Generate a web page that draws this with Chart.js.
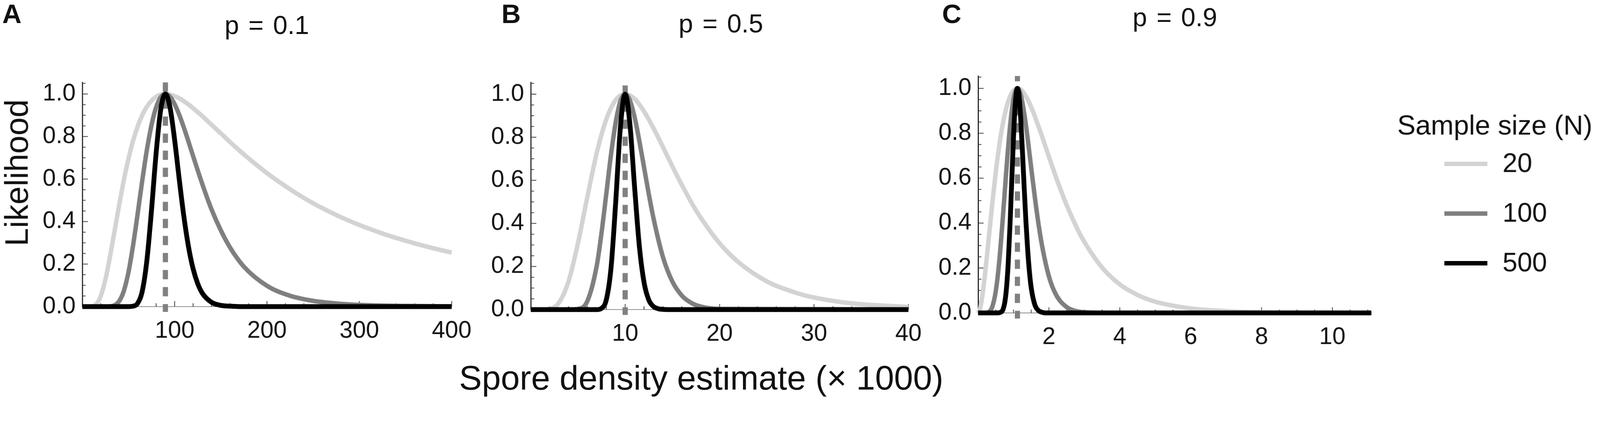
<!DOCTYPE html>
<html>
<head>
<meta charset="utf-8">
<script src="https://cdn.jsdelivr.net/npm/chart.js@4.4.1/dist/chart.umd.min.js"></script>
<style>
html, body { margin: 0; padding: 0; background: #ffffff; overflow: hidden; }
#root { position: absolute; left: 0; top: 0; width: 4317px; height: 1080px; overflow: hidden;
        transform-origin: 0 0; background: #ffffff;
        font-family: "Liberation Sans", Arial, sans-serif; color: #111; }
.box { position: absolute; top: 0; height: 1080px; }
.t { position: absolute; white-space: nowrap; }
</style>
</head>
<body>
<div id="root">
<div class="box" style="left:0px;width:1300px"><canvas id="cA" width="1300" height="1080"></canvas></div>
<div class="box" style="left:1300px;width:1220px"><canvas id="cB" width="1220" height="1080"></canvas></div>
<div class="box" style="left:2520px;width:1797px"><canvas id="cC" width="1797" height="1080"></canvas></div>

<div class="t" style="left:6px;top:1px;font-size:72px;line-height:72px;font-weight:bold">A</div>
<div class="t" style="left:1353px;top:1px;font-size:72px;line-height:72px;font-weight:bold">B</div>
<div class="t" style="left:2542px;top:1px;font-size:72px;line-height:72px;font-weight:bold">C</div>

<div class="t" style="left:720px;top:33px;font-size:70px;line-height:70px;word-spacing:6px;transform:translateX(-50%)">p = 0.1</div>
<div class="t" style="left:1945px;top:28px;font-size:70px;line-height:70px;word-spacing:6px;transform:translateX(-50%)">p = 0.5</div>
<div class="t" style="left:3170px;top:12px;font-size:70px;line-height:70px;word-spacing:6px;transform:translateX(-50%)">p = 0.9</div>

<div class="t" style="left:45px;top:466px;font-size:88px;line-height:88px;transform:translate(-50%,-50%) rotate(-90deg)">Likelihood</div>
<div class="t" style="left:1892px;top:973px;font-size:92px;line-height:92px;transform:translateX(-50%)">Spore density estimate (× 1000)</div>
</div>

<script>
// fit the 4317x1080 figure to whatever viewport the browser really gives
(function () {
  const root = document.getElementById('root');
  const s = Math.min(window.innerWidth / 4317, window.innerHeight / 1080);
  if (s > 0 && Math.abs(s - 1) > 0.001) root.style.transform = 'scale(' + s + ')';
})();

// ---------------- data ----------------
const sampleSizes = ['20', '100', '500'];
const legendTitle = 'Sample size (N)';
const modeDensity = [90, 10, 1.11];

const yTickVals = [0, 0.2, 0.4, 0.6, 0.8, 1.0];
const yTickLabels = ['0.0', '0.2', '0.4', '0.6', '0.8', '1.0'];

const xTicksA = [100, 200, 300, 400];
const xTickLabelsA = ['100', '200', '300', '400'];
const xTicksB = [10, 20, 30, 40];
const xTickLabelsB = ['10', '20', '30', '40'];
const xTicksC = [2, 4, 6, 8, 10];
const xTickLabelsC = ['2', '4', '6', '8', '10'];

// Panel A (p = 0.1)
const densA20 = [0,10,15,20,25,30,35,40,45,50,55,60,65,70,75,80,85,90,95,100,105,110,115,120,130,140,150,160,175,200,225,250,275,300,325,350,375,400];
const likeA20 = [0,0.001,0.011,0.050,0.127,0.235,0.357,0.480,0.595,0.695,0.780,0.848,0.901,0.941,0.969,0.987,0.997,1.000,0.997,0.990,0.980,0.966,0.951,0.933,0.896,0.855,0.815,0.774,0.716,0.628,0.552,0.486,0.431,0.384,0.344,0.310,0.280,0.254];
const densA100 = [0,25,30,35,40,45,50,55,60,65,70,75,80,85,90,95,100,105,110,115,120,130,140,150,160,175,200,225,250,275,300,350,400];
const likeA100 = [0,0,0.001,0.006,0.026,0.074,0.162,0.288,0.438,0.595,0.738,0.855,0.938,0.985,1.000,0.987,0.952,0.902,0.842,0.776,0.708,0.576,0.457,0.359,0.278,0.188,0.098,0.051,0.027,0.015,0.008,0.003,0.001];
const densA500 = [0,45,50,55,60,65,70,75,80,85,90,95,100,105,110,115,120,125,130,140,150,160,170,400];
const likeA500 = [0,0,0,0.002,0.016,0.074,0.219,0.456,0.724,0.928,1.000,0.937,0.784,0.598,0.424,0.282,0.178,0.108,0.063,0.020,0.006,0.002,0,0];

// Panel B (p = 0.5)
const densB20 = [0,1,2,3,4,5,6,7,8,9,10,11,12,13,14,15,16,17,18,20,22,25,28,30,33,35,40];
const likeB20 = [0,0,0.003,0.033,0.131,0.308,0.524,0.729,0.883,0.973,1.000,0.978,0.920,0.842,0.755,0.665,0.579,0.498,0.427,0.308,0.220,0.131,0.079,0.056,0.034,0.025,0.012];
const densB100 = [0,4,5,6,7,7.5,8,8.5,9,9.5,10,10.5,11,11.5,12,12.5,13,14,15,16,17,18,20,40];
const likeB100 = [0,0,0.003,0.040,0.206,0.357,0.537,0.719,0.870,0.968,1.000,0.971,0.893,0.783,0.660,0.537,0.424,0.244,0.130,0.065,0.031,0.014,0.003,0];
const densB500 = [0,6.5,7,7.5,8,8.5,9,9.5,10,10.5,11,11.5,12,12.5,13,13.5,14,15,40];
const likeB500 = [0,0,0,0.006,0.045,0.192,0.500,0.849,1.000,0.862,0.567,0.295,0.126,0.045,0.014,0.004,0.001,0,0];

// Panel C (p = 0.9)
const densC20 = [0,0.05,0.1,0.2,0.3,0.4,0.5,0.6,0.7,0.8,0.9,1.0,1.11,1.2,1.3,1.4,1.5,1.6,1.8,2.0,2.2,2.5,2.8,3.0,3.5,4,4.5,5,6,7,8,9,10,11.1];
const likeC20 = [0,0.015,0.055,0.179,0.332,0.486,0.628,0.748,0.844,0.915,0.963,0.990,1.000,0.995,0.977,0.950,0.916,0.876,0.788,0.695,0.604,0.480,0.375,0.316,0.202,0.127,0.080,0.050,0.020,0.008,0.003,0.001,0.001,0];
const densC100 = [0,0.2,0.3,0.4,0.5,0.6,0.7,0.8,0.9,1.0,1.11,1.2,1.3,1.4,1.5,1.6,1.7,1.8,2.0,2.2,2.5,2.8,3.0,3.5,11.1];
const likeC100 = [0,0,0.004,0.027,0.098,0.234,0.427,0.641,0.828,0.953,1.000,0.973,0.891,0.775,0.645,0.517,0.402,0.304,0.162,0.081,0.026,0.007,0.003,0,0];
const densC500 = [0,0.55,0.6,0.65,0.7,0.75,0.8,0.85,0.9,0.95,1.0,1.05,1.11,1.15,1.2,1.25,1.3,1.35,1.4,1.45,1.5,1.6,1.7,1.8,1.9,11.1];
const likeC500 = [0,0,0.001,0.004,0.014,0.044,0.108,0.222,0.389,0.588,0.785,0.932,1.000,0.974,0.873,0.725,0.561,0.407,0.279,0.181,0.111,0.037,0.011,0.003,0,0];

// ---------------- styling ----------------
const FONT = '"Liberation Sans", Arial, sans-serif';
const lineColors = ['#d3d3d3', '#7f7f7f', '#000000'];
const lineWidths = [12, 12, 13];
const dashColor = '#808080';
const Y_MAX = 1.055;

Chart.defaults.font.family = FONT;
Chart.defaults.color = '#111';

const pts = (xs, ys) => xs.map((x, i) => ({ x: x, y: ys[i] }));

// inward tick marks (major + minor), Mathematica-style
const innerTicks = {
  id: 'innerTicks',
  beforeDatasetsDraw(chart, args, o) {
    const { ctx, chartArea: a } = chart;
    const xs = chart.scales.x, ys = chart.scales.y;
    ctx.save();
    ctx.strokeStyle = '#333';
    ctx.lineWidth = 2;
    const ny = Math.round(ys.max / o.yMinor + 1e-6);
    for (let i = 0; i <= ny; i++) {
      const p = ys.getPixelForValue(i * o.yMinor);
      const len = (i % o.yPer === 0) ? 15 : 9;
      ctx.beginPath(); ctx.moveTo(a.left, p); ctx.lineTo(a.left + len, p); ctx.stroke();
    }
    const nx = Math.floor(xs.max / o.xMinor + 1e-6);
    for (let i = 1; i <= nx; i++) {
      const p = xs.getPixelForValue(i * o.xMinor);
      const len = (i % o.xPer === 0) ? 15 : 9;
      ctx.beginPath(); ctx.moveTo(p, a.bottom); ctx.lineTo(p, a.bottom - len); ctx.stroke();
    }
    ctx.restore();
  }
};

// legend for the sample sizes, drawn beside panel C from the chart's own datasets
const sampleLegend = {
  id: 'sampleLegend',
  afterDraw(chart, args, o) {
    if (!o || !o.display) return;
    const ctx = chart.ctx;
    ctx.save();
    ctx.fillStyle = '#111';
    ctx.font = o.titleSize + 'px ' + FONT;
    ctx.textAlign = 'left';
    ctx.textBaseline = 'alphabetic';
    ctx.fillText(o.title, o.titleX, o.titleY);
    ctx.font = o.labelSize + 'px ' + FONT;
    ctx.textBaseline = 'middle';
    o.rowsY.forEach((ry, i) => {
      const ds = chart.data.datasets[i];
      ctx.fillStyle = ds.borderColor;
      ctx.fillRect(o.lineX, ry - o.lineW / 2, o.lineLen, o.lineW);
      ctx.fillStyle = '#111';
      ctx.fillText(ds.label, o.textX, ry + 2);
    });
    ctx.restore();
  }
};

function makePanel(id, s) {
  const datasets = [
    { label: sampleSizes[0], data: pts(s.d20, s.l20), borderColor: lineColors[0], backgroundColor: lineColors[0], borderWidth: lineWidths[0], order: 4 },
    { label: sampleSizes[1], data: pts(s.d100, s.l100), borderColor: lineColors[1], backgroundColor: lineColors[1], borderWidth: lineWidths[1], order: 3 },
    { label: sampleSizes[2], data: pts(s.d500, s.l500), borderColor: lineColors[2], backgroundColor: lineColors[2], borderWidth: lineWidths[2], order: 1 },
    { label: 'mode', data: [{ x: s.mode, y: -0.025 }, { x: s.mode, y: Y_MAX }], borderColor: dashColor,
      borderDash: [25, 21], borderDashOffset: 4, borderWidth: 14, order: 2, clip: 20, tension: 0 }
  ];
  datasets.forEach((d, i) => {
    d.pointRadius = 0;
    d.fill = false;
    if (i < 3) { d.cubicInterpolationMode = 'monotone'; d.clip = 12; d.borderJoinStyle = 'round'; }
  });

  const scales = {
    x: {
      type: 'linear', min: 0, max: s.xMax, position: 'bottom',
      grid: { display: true, drawOnChartArea: false, drawTicks: false },
      border: { display: true, color: '#888', width: 2 },
      ticks: { padding: 28, color: '#111', font: { family: FONT, size: 64 }, maxRotation: 0,
               callback: (v, i) => s.xLabels[i] },
      afterBuildTicks: ax => { ax.ticks = s.xTicks.map(v => ({ value: v })); },
      afterFit: ax => { ax.height = s.xAxisH; }
    },
    y: {
      type: 'linear', min: 0, max: Y_MAX, position: 'left',
      grid: { display: true, drawOnChartArea: false, drawTicks: false },
      border: { display: true, color: '#222', width: 3 },
      ticks: { padding: 18, color: '#111', font: { family: FONT, size: 64 },
               callback: (v, i) => yTickLabels[i] },
      afterBuildTicks: ax => { ax.ticks = yTickVals.map(v => ({ value: v })); },
      afterFit: ax => { ax.width = s.yAxisW; }
    }
  };

  return new Chart(document.getElementById(id), {
    type: 'line',
    data: { datasets: datasets },
    options: {
      responsive: false, animation: false, devicePixelRatio: 1,
      layout: { padding: s.pad },
      scales: scales,
      plugins: {
        legend: { display: false }, tooltip: { enabled: false }, title: { display: false },
        innerTicks: s.ticks,
        sampleLegend: s.legend || { display: false }
      }
    },
    plugins: [innerTicks, sampleLegend]
  });
}

makePanel('cA', {
  d20: densA20, l20: likeA20, d100: densA100, l100: likeA100, d500: densA500, l500: likeA500,
  mode: modeDensity[0], xMax: 400, xTicks: xTicksA, xLabels: xTickLabelsA,
  xAxisH: 253, yAxisW: 222, pad: { left: 0, right: 74, top: 222, bottom: 0 },
  ticks: { yMinor: 0.05, yPer: 4, xMinor: 20, xPer: 5 }
});
makePanel('cB', {
  d20: densB20, l20: likeB20, d100: densB100, l100: likeB100, d500: densB500, l500: likeB500,
  mode: modeDensity[1], xMax: 40, xTicks: xTicksB, xLabels: xTickLabelsB,
  xAxisH: 245, yAxisW: 132, pad: { left: 0, right: 69, top: 222, bottom: 0 },
  ticks: { yMinor: 0.05, yPer: 4, xMinor: 2, xPer: 5 }
});
makePanel('cC', {
  d20: densC20, l20: likeC20, d100: densC100, l100: likeC100, d500: densC500, l500: likeC500,
  mode: modeDensity[2], xMax: 11.1, xTicks: xTicksC, xLabels: xTickLabelsC,
  xAxisH: 236, yAxisW: 119, pad: { left: 0, right: 617, top: 205, bottom: 0 },
  ticks: { yMinor: 0.05, yPer: 4, xMinor: 0.5, xPer: 4 },
  legend: { display: true, title: legendTitle, titleSize: 74, labelSize: 72,
            titleX: 1250, titleY: 363, lineX: 1377, lineLen: 116, lineW: 12,
            textX: 1534, rowsY: [442, 576, 710] }
});
</script>
</body>
</html>
